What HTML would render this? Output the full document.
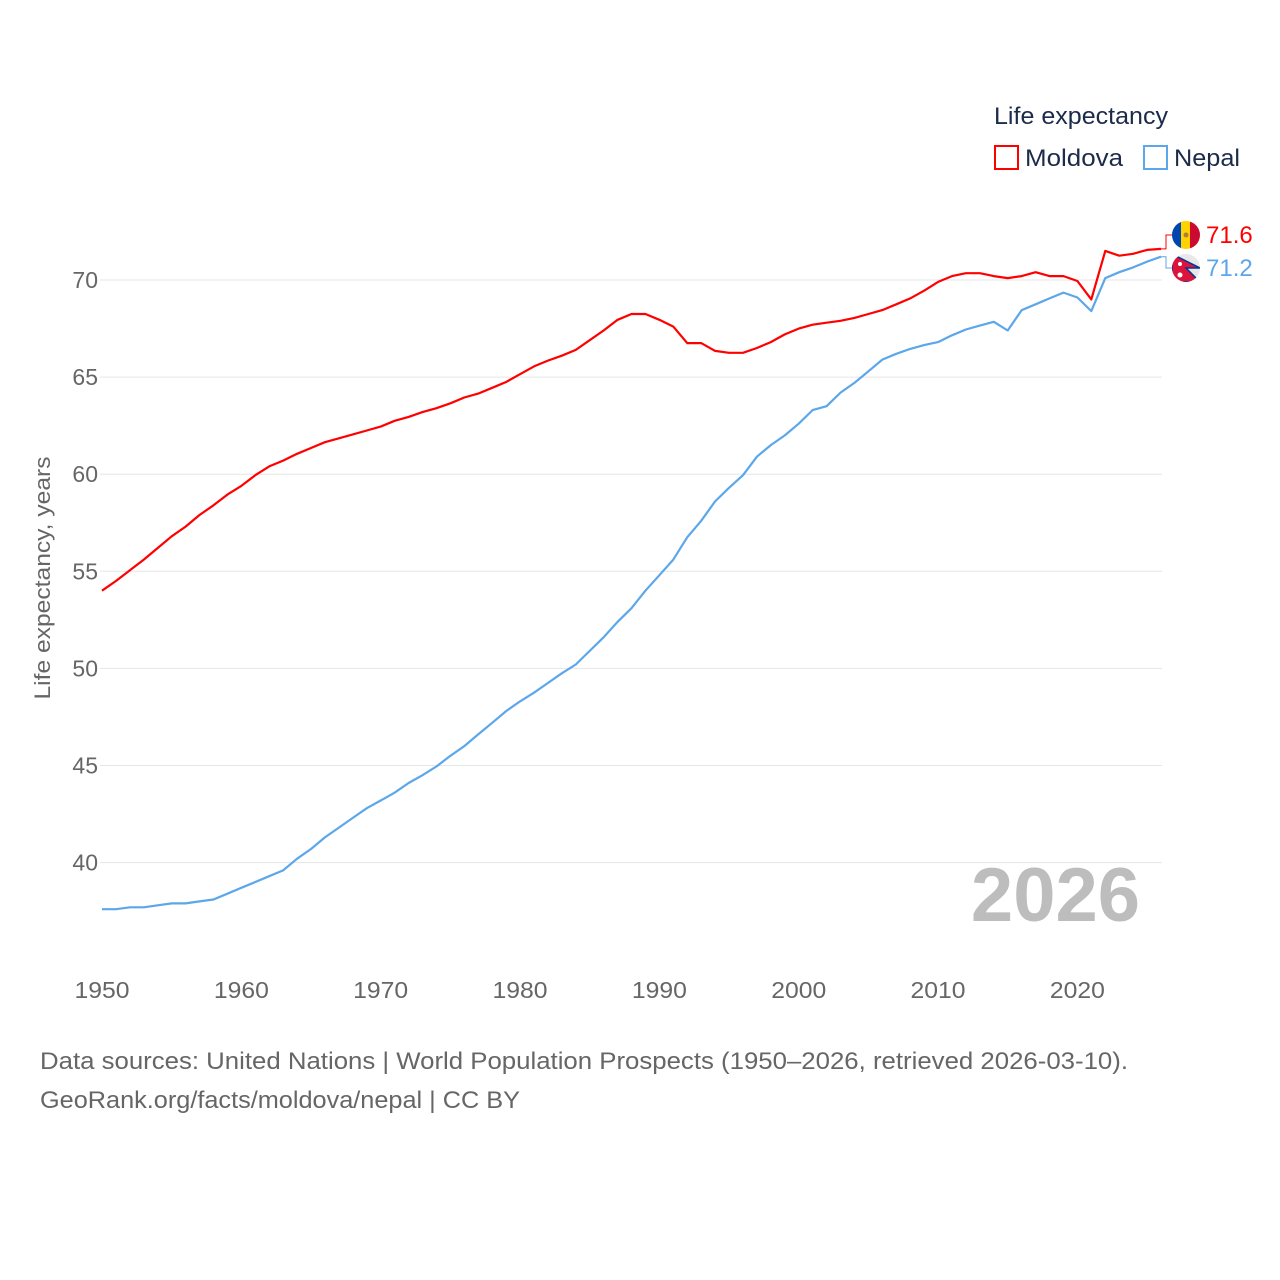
<!DOCTYPE html>
<html><head><meta charset="utf-8"><style>
body{margin:0;background:#fff;}
svg{display:block;font-family:"Liberation Sans",sans-serif;}
</style></head><body>
<svg id="chart" width="1280" height="1280" viewBox="0 0 1280 1280">
<defs>
<clipPath id="cm"><circle cx="1186" cy="235" r="14"/></clipPath>
<clipPath id="cn"><circle cx="1186" cy="268" r="14"/></clipPath>
</defs>
<g id="grid"></g>
<g id="yticks"></g>
<g id="xticks"></g>
<text transform="translate(50,578) rotate(-90)" text-anchor="middle" font-size="22" fill="#666" textLength="243" lengthAdjust="spacingAndGlyphs">Life expectancy, years</text>
<text x="1140" y="921" text-anchor="end" font-size="76" font-weight="bold" fill="#bdbdbd">2026</text>
<g id="series"></g>
<g>
<text x="994" y="124" font-size="24" fill="#1c2b4a" textLength="174" lengthAdjust="spacingAndGlyphs">Life expectancy</text>
<rect x="995" y="146" width="23" height="23" fill="none" stroke="#ff0000" stroke-width="2"/>
<text x="1025" y="166" font-size="24" fill="#1c2b4a" textLength="98" lengthAdjust="spacingAndGlyphs">Moldova</text>
<rect x="1144" y="146" width="23" height="23" fill="none" stroke="#5ca6ea" stroke-width="2"/>
<text x="1174" y="166" font-size="24" fill="#1c2b4a" textLength="66" lengthAdjust="spacingAndGlyphs">Nepal</text>
</g>
<g id="endlabels"></g>
<text x="40" y="1069" font-size="24" fill="#666" textLength="1088" lengthAdjust="spacingAndGlyphs">Data sources: United Nations | World Population Prospects (1950–2026, retrieved 2026-03-10).</text>
<text x="40" y="1108" font-size="24" fill="#666" textLength="480" lengthAdjust="spacingAndGlyphs">GeoRank.org/facts/moldova/nepal | CC BY</text>
</svg>
<script>
const years = [];
for (let y = 1950; y <= 2026; y++) years.push(y);
const moldova = [54.0,54.5,55.05,55.6,56.2,56.8,57.3,57.9,58.4,58.95,
59.4,59.95,60.4,60.7,61.05,61.35,61.65,61.85,62.05,62.25,
62.45,62.75,62.95,63.2,63.4,63.65,63.95,64.15,64.45,64.75,
65.15,65.55,65.85,66.1,66.4,66.9,67.4,67.95,68.25,68.25,
67.95,67.6,66.75,66.75,66.35,66.25,66.25,66.5,66.8,67.2,
67.5,67.7,67.8,67.9,68.05,68.25,68.45,68.75,69.05,69.45,
69.9,70.2,70.35,70.35,70.2,70.1,70.2,70.4,70.2,70.2,
69.95,69.0,71.5,71.25,71.35,71.55,71.6];
const nepal = [37.6,37.6,37.7,37.7,37.8,37.9,37.9,38.0,38.1,38.4,
38.7,39.0,39.3,39.6,40.2,40.7,41.3,41.8,42.3,42.8,
43.2,43.6,44.1,44.5,44.95,45.5,46.0,46.6,47.2,47.8,
48.3,48.75,49.25,49.75,50.2,50.9,51.6,52.4,53.1,54.0,
54.8,55.6,56.75,57.6,58.6,59.3,59.95,60.9,61.5,62.0,
62.6,63.3,63.5,64.2,64.7,65.3,65.9,66.2,66.45,66.65,
66.8,67.15,67.45,67.65,67.85,67.4,68.45,68.75,69.05,69.35,
69.1,68.4,70.1,70.4,70.65,70.95,71.2];
const yTicks = [40,45,50,55,60,65,70];
const xTicks = [1950,1960,1970,1980,1990,2000,2010,2020];
const endValues = ["71.6","71.2"];

const NS = "http://www.w3.org/2000/svg";
const xS = yr => 102 + (yr - 1950) * (1161 - 102) / 76;
const yS = v => 280 + (70 - v) * 19.42;
function mk(tag, attrs, parent){const e=document.createElementNS(NS,tag);for(const k in attrs)e.setAttribute(k,attrs[k]);parent.appendChild(e);return e;}
const grid=document.getElementById('grid'), yt=document.getElementById('yticks'), xt=document.getElementById('xticks');
yTicks.forEach(t=>{
  const l=mk('line',{x1:100,x2:1162,y1:yS(t),y2:yS(t),stroke:'#e6e6e6','stroke-width':1},grid);
  
  
  const tx=mk('text',{x:98,y:yS(t)+8,'text-anchor':'end','font-size':23,fill:'#666'},yt);
  tx.textContent=t;
  
  
});
xTicks.forEach(t=>{
  const tx=mk('text',{x:xS(t),y:998,'text-anchor':'middle','font-size':23,fill:'#666',textLength:55,lengthAdjust:'spacingAndGlyphs'},xt);
  tx.textContent=t;
  
  
});
const sg=document.getElementById('series');
function line(vals,color,name){
  const d=vals.map((v,i)=>(i?'L':'M')+xS(years[i]).toFixed(1)+','+yS(v).toFixed(1)).join(' ');
  const p=mk('path',{d:d,fill:'none',stroke:color,'stroke-width':2.2,'stroke-linejoin':'round'},sg);
  
  
}
line(moldova,'#ff0000','line-moldova');
line(nepal,'#5ca6ea','line-nepal');
const el=document.getElementById('endlabels');
const lastX=xS(years[years.length-1]);
const specs=[{v:moldova[moldova.length-1],ly:235,c:'#ff0000',n:'moldova',t:endValues[0]},{v:nepal[nepal.length-1],ly:268,c:'#5ca6ea',n:'nepal',t:endValues[1]}];
specs.forEach(s=>{
  const c=mk('polyline',{points:`${lastX},${yS(s.v)} ${lastX+5},${yS(s.v)} ${lastX+5},${s.ly} ${lastX+12},${s.ly}`,fill:'none',stroke:s.c,'stroke-width':1},el);
  
  
  const f=mk('g',{},el);
  
  
  if(s.n==='moldova'){
    const g=mk('g',{'clip-path':'url(#cm)'},f);
    mk('rect',{x:1172,y:s.ly-14,width:10,height:28,fill:'#0046ae'},g);
    mk('rect',{x:1181,y:s.ly-14,width:10,height:28,fill:'#ffd200'},g);
    mk('rect',{x:1190,y:s.ly-14,width:10,height:28,fill:'#cc092f'},g);
    mk('circle',{cx:1186,cy:s.ly,r:2.5,fill:'#b07e3a'},g);
  } else {
    const g=mk('g',{'clip-path':'url(#cn)'},f);
    mk('rect',{x:1172,y:s.ly-14,width:28,height:28,fill:'#e8e8e8'},g);
    mk('path',{d:`M1172,${s.ly-14} L1200,${s.ly} L1186,${s.ly} L1200,${s.ly+14} L1172,${s.ly+14} Z`,fill:'#dc143c',stroke:'#003893','stroke-width':1.5},g);
    mk('circle',{cx:1180,cy:s.ly-4,r:2,fill:'#fff'},g);
    mk('circle',{cx:1180,cy:s.ly+7,r:2.5,fill:'#fff'},g);
  }
  const t=mk('text',{x:1206,y:s.ly+8,'font-size':24,fill:s.c},el);
  t.textContent=s.t;
  
  
});
</script>
</body></html>
